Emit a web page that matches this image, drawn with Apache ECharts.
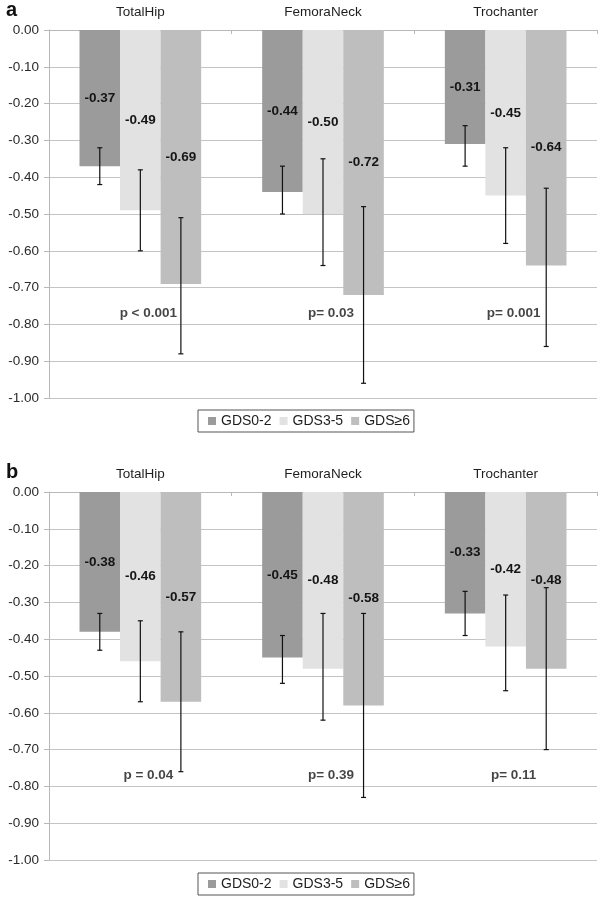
<!DOCTYPE html>
<html>
<head>
<meta charset="utf-8">
<script src="https://cdn.jsdelivr.net/npm/echarts@6/dist/echarts.min.js"></script>
<style>
html,body{margin:0;padding:0;background:#fff;}
#main{width:603px;height:900px;}
</style>
</head>
<body>
<div id="main"></div>
<script>
// ---- data ----
const categories = ['TotalHip', 'FemoraNeck', 'Trochanter'];
const groupNames = ['GDS0-2', 'GDS3-5', 'GDS≥6'];
const yTicks = [0, -0.1, -0.2, -0.3, -0.4, -0.5, -0.6, -0.7, -0.8, -0.9, -1.0];

// Panel a
const a_gds02 = [-0.37, -0.44, -0.31];
const a_gds35 = [-0.49, -0.50, -0.45];
const a_gds6  = [-0.69, -0.72, -0.64];
const a_err02 = [[-0.32, -0.42], [-0.37, -0.50], [-0.26, -0.37]];
const a_err35 = [[-0.38, -0.60], [-0.35, -0.64], [-0.32, -0.58]];
const a_err6  = [[-0.51, -0.88], [-0.48, -0.96], [-0.43, -0.86]];
const a_p = ['p < 0.001', 'p= 0.03', 'p= 0.001'];

// Panel b
const b_gds02 = [-0.38, -0.45, -0.33];
const b_gds35 = [-0.46, -0.48, -0.42];
const b_gds6  = [-0.57, -0.58, -0.48];
const b_err02 = [[-0.33, -0.43], [-0.39, -0.52], [-0.27, -0.39]];
const b_err35 = [[-0.35, -0.57], [-0.33, -0.62], [-0.28, -0.54]];
const b_err6  = [[-0.38, -0.76], [-0.33, -0.83], [-0.26, -0.70]];
const b_p = ['p = 0.04', 'p= 0.39', 'p= 0.11'];

const pLevel = -0.77;

// ---- styles ----
const colors = ['#9b9b9b', '#e2e2e2', '#bebebe'];
const FONT = '"Liberation Sans", Arial, sans-serif';
const BAR_FRAC = 0.222;

function barSeries(name, values, idx, grid) {
  return {
    type: 'bar', name: name, xAxisIndex: grid, yAxisIndex: grid,
    data: values, barWidth: (BAR_FRAC * 100) + '%', barGap: '0%',
    itemStyle: { color: colors[idx] },
    label: {
      show: true, position: 'inside', fontFamily: FONT, fontSize: 13.5,
      fontWeight: 'bold', color: '#151515',
      formatter: p => p.value.toFixed(2)
    },
    z: 2
  };
}

function errSeries(errs, idx, grid) {
  return {
    type: 'custom', xAxisIndex: grid, yAxisIndex: grid, z: 5,
    data: errs.map((e, i) => [i, e[0], e[1]]),
    renderItem: function (params, api) {
      const ci = api.value(0);
      const top = api.coord([ci, api.value(1)]);
      const bot = api.coord([ci, api.value(2)]);
      const bw = api.size([1, 0])[0] * BAR_FRAC;
      const x = top[0] + (idx - 1) * bw;
      const cap = 2.5;
      const st = { stroke: '#111', lineWidth: 1.2 };
      return {
        type: 'group', children: [
          { type: 'line', shape: { x1: x, y1: top[1], x2: x, y2: bot[1] }, style: st },
          { type: 'line', shape: { x1: x - cap, y1: top[1], x2: x + cap, y2: top[1] }, style: st },
          { type: 'line', shape: { x1: x - cap, y1: bot[1], x2: x + cap, y2: bot[1] }, style: st }
        ]
      };
    }
  };
}

function pSeries(texts, grid) {
  return {
    type: 'scatter', xAxisIndex: grid, yAxisIndex: grid, z: 6,
    data: categories.map((c, i) => [i, pLevel]),
    symbolSize: 1, itemStyle: { color: 'rgba(0,0,0,0)' },
    label: {
      show: true, position: 'inside', offset: [8, 0],
      fontFamily: FONT, fontSize: 13.5, fontWeight: 'bold', color: '#151515',
      formatter: p => texts[p.dataIndex]
    },
    silent: true
  };
}

function xAxis(grid) {
  return {
    type: 'category', gridIndex: grid, data: categories, position: 'top',
    axisLine: { show: true, lineStyle: { color: '#b8b8b8', width: 1 } },
    axisTick: { show: true, inside: true, length: 4, lineStyle: { color: '#b8b8b8' } },
    axisLabel: { fontFamily: FONT, fontSize: 13.5, color: '#1e1e1e', margin: 11 }
  };
}
function yAxis(grid) {
  return {
    type: 'value', gridIndex: grid, min: -1, max: 0, interval: 0.1,
    axisLine: { show: true, lineStyle: { color: '#b8b8b8' } },
    axisTick: { show: true, length: 5, lineStyle: { color: '#b8b8b8' } },
    splitLine: { show: true, lineStyle: { color: '#c4c4c4', width: 1 } },
    axisLabel: {
      fontFamily: FONT, fontSize: 13.5, color: '#2a2a2a', margin: 10,
      formatter: v => (Math.abs(v) < 1e-9 ? 0 : v).toFixed(2)
    }
  };
}
function legend(top) {
  return {
    data: groupNames, left: 198, top: top, orient: 'horizontal',
    icon: 'rect', itemWidth: 8, itemHeight: 8, itemGap: 8,
    borderColor: '#555', borderWidth: 1, borderRadius: 0,
    padding: [4, 4, 4, 10],
    textStyle: { fontFamily: FONT, fontSize: 14, color: '#1e1e1e' },
    selectedMode: false
  };
}

const chart = echarts.init(document.getElementById('main'), null, { renderer: 'canvas' });
chart.setOption({
  animation: false,
  backgroundColor: '#fff',
  grid: [
    { left: 49, right: 6, top: 30, height: 368 },
    { left: 49, right: 6, top: 492, height: 368 }
  ],
  xAxis: [xAxis(0), xAxis(1)],
  yAxis: [yAxis(0), yAxis(1)],
  legend: [legend(410), legend(873)],
  graphic: [
    { type: 'text', left: 6, top: 0, style: { text: 'a', font: 'bold 20px ' + FONT, fill: '#111' } },
    { type: 'text', left: 6, top: 462, style: { text: 'b', font: 'bold 20px ' + FONT, fill: '#111' } }
  ],
  series: [
    barSeries(groupNames[0], a_gds02, 0, 0),
    barSeries(groupNames[1], a_gds35, 1, 0),
    barSeries(groupNames[2], a_gds6, 2, 0),
    errSeries(a_err02, 0, 0),
    errSeries(a_err35, 1, 0),
    errSeries(a_err6, 2, 0),
    pSeries(a_p, 0),
    barSeries(groupNames[0], b_gds02, 0, 1),
    barSeries(groupNames[1], b_gds35, 1, 1),
    barSeries(groupNames[2], b_gds6, 2, 1),
    errSeries(b_err02, 0, 1),
    errSeries(b_err35, 1, 1),
    errSeries(b_err6, 2, 1),
    pSeries(b_p, 1)
  ]
});
</script>
</body>
</html>
